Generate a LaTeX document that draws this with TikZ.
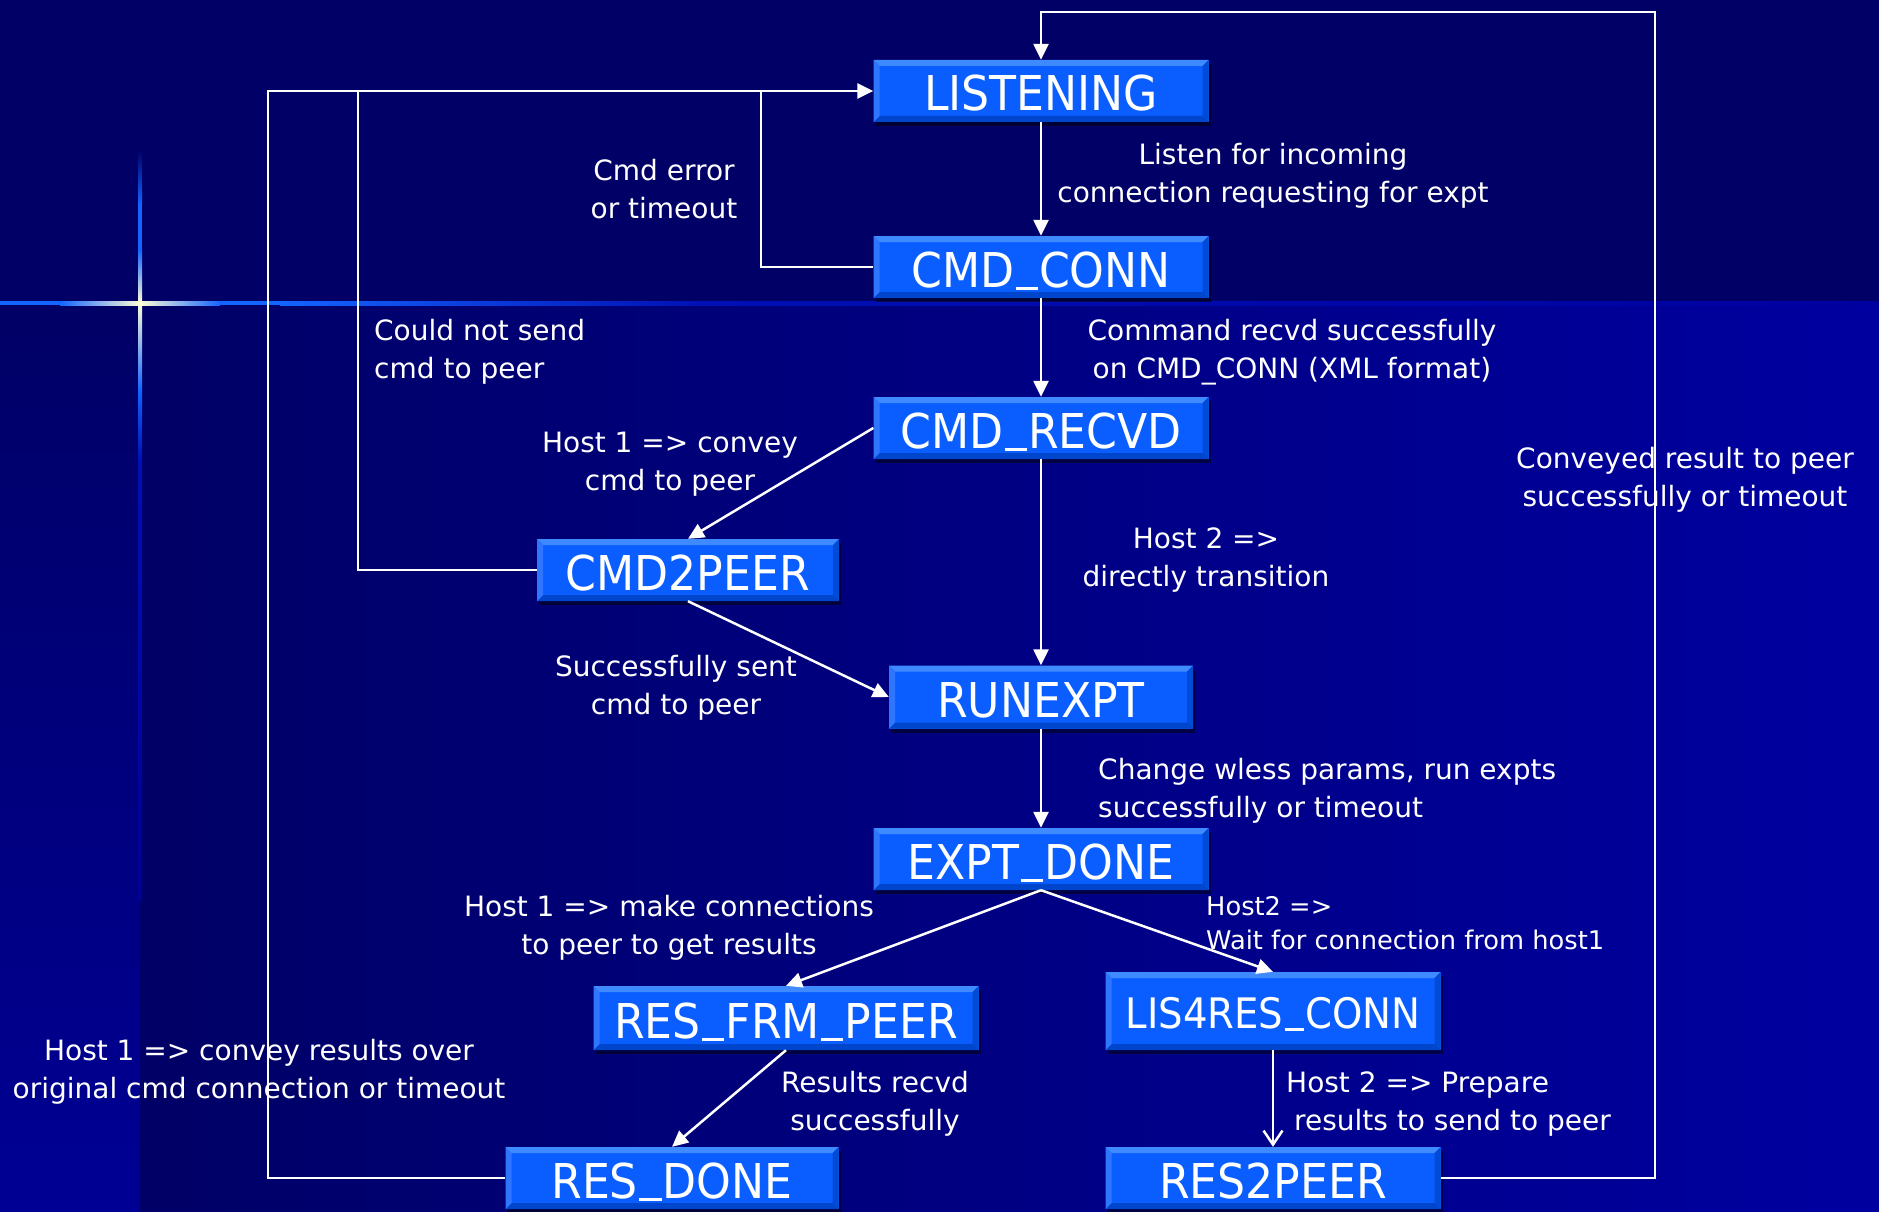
\documentclass[tikz,border=0pt]{standalone}
\usepackage{fontspec}
\setmainfont{DejaVu Sans}
\newfontfamily\nodefont{DejaVu Sans}[FakeStretch=0.92]
\usetikzlibrary{arrows.meta,shadows}
\newcommand\usbar{\kern0.03em\rule[-2.5pt]{0.46em}{3pt}\kern0.03em}
\definecolor{bgtop}{HTML}{000066}
\definecolor{bgbot}{HTML}{0000A0}
\definecolor{bgleft}{HTML}{000094}
\definecolor{nodeblue}{HTML}{0A5EFF}
\definecolor{nodelight}{HTML}{3F8AFF}
\definecolor{nodedark}{HTML}{0046CC}
\definecolor{flareblue}{HTML}{1464FF}
\definecolor{flarecore}{HTML}{FFFFD8}
\definecolor{flarefaint}{HTML}{0010B4}
\tikzset{
  state/.style={fill=nodeblue, text=white,
    font=\nodefont\fontsize{48}{52}\selectfont,
    text height=40pt, text depth=0pt,
    minimum width=335pt, minimum height=62pt, inner sep=0pt,
    drop shadow={shadow xshift=2pt,shadow yshift=-4pt,opacity=0.5,fill=black},
    path picture={
      \fill[nodelight] (path picture bounding box.north west) -- (path picture bounding box.north east)
        -- ([shift={(-6pt,-6pt)}]path picture bounding box.north east)
        -- ([shift={(6pt,-6pt)}]path picture bounding box.north west) -- cycle;
      \fill[nodedark] (path picture bounding box.south west) -- (path picture bounding box.south east)
        -- ([shift={(-6pt,6pt)}]path picture bounding box.south east)
        -- ([shift={(6pt,6pt)}]path picture bounding box.south west) -- cycle;
      \fill[nodeblue!85!white] (path picture bounding box.north west)
        -- ([shift={(6pt,-6pt)}]path picture bounding box.north west)
        -- ([shift={(6pt,6pt)}]path picture bounding box.south west)
        -- (path picture bounding box.south west) -- cycle;
      \fill[nodedark!80!nodeblue] (path picture bounding box.north east)
        -- ([shift={(-6pt,-6pt)}]path picture bounding box.north east)
        -- ([shift={(-6pt,6pt)}]path picture bounding box.south east)
        -- (path picture bounding box.south east) -- cycle;
    }},
  lbl/.style={text=white, font=\fontsize{28}{38}\selectfont, align=center, inner sep=0pt},
  conn/.style={draw=white, line width=2.5pt},
  arr/.style={conn, -{Triangle[length=16pt,width=15pt]}},
  barb/.style={conn, -{Straight Barb[length=14pt,width=19pt]}}
}
\begin{document}
\begin{tikzpicture}[x=1pt,y=-1pt]
% background
\fill[bgtop] (0,0) rectangle (1879,1212);
\useasboundingbox (0,0) rectangle (1879,1212);
\shade[left color=bgtop, right color=bgbot] (140,303) rectangle (1879,1212);
\shade[top color=bgtop, bottom color=bgleft] (0,303) rectangle (140,1212);
% flare horizontal
\fill[flareblue] (0,301) rectangle (60,305);
\shade[left color=flareblue, right color=flarecore] (60,301) rectangle (140,305);
\shade[left color=flarecore, right color=flareblue] (140,301) rectangle (220,305);
\fill[flareblue] (220,301) rectangle (280,305);
\shade[left color=flareblue, right color=flarefaint] (280,301) rectangle (700,305);
\shade[left color=flarefaint, right color=bgbot] (700,301) rectangle (1879,305);
% flare vertical
\shade[top color=bgtop, bottom color=flareblue] (138,150) rectangle (142,205);
\fill[flareblue] (138,205) rectangle (142,250);
\shade[top color=flareblue, bottom color=flarecore] (138,250) rectangle (142,303);
\shade[top color=flarecore, bottom color=flareblue] (138,303) rectangle (142,390);
\shade[top color=flareblue, bottom color=flarefaint] (138,390) rectangle (142,460);
\shade[top color=flarefaint, bottom color=bgleft] (138,460) rectangle (142,900);
% states
\node[state] (listen) at (1041,91) {LISTENING};
\node[state] (cmdconn) at (1041,267) {CMD\usbar CONN};
\node[state] (cmdrecvd) at (1041,428) {CMD\usbar RECVD};
\node[state, minimum width=302pt] (cmd2peer) at (688,570) {CMD2PEER};
\node[state, minimum width=304pt, minimum height=63pt] (runexpt) at (1041,697) {RUNEXPT};
\node[state] (exptdone) at (1041,859) {EXPT\usbar DONE};
\node[state, minimum width=385pt, minimum height=64pt] (resfrm) at (786,1018) {RES\usbar FRM\usbar PEER};
\node[state, minimum height=78pt, font=\nodefont\fontsize{42}{46}\selectfont, text height=34pt] (lis4res) at (1273,1011) {LIS4RES\usbar CONN};
\node[state, minimum width=333pt] (resdone) at (672,1178) {RES\usbar DONE};
\node[state] (res2peer) at (1273,1178) {RES2PEER};
% connectors
\draw[arr] (res2peer.east) -| (1655,12) -| (listen.north);
\draw[arr] (resdone.west) -| (268,91) -- (listen.west);
\draw[conn] (cmd2peer.west) -| (358,91);
\draw[conn] (cmdconn.west) -| (761,91);
\draw[arr] (listen.south) -- (cmdconn.north);
\draw[arr] (cmdconn.south) -- (cmdrecvd.north);
\draw[arr] (cmdrecvd.south) -- (runexpt.north);
\draw[arr] (runexpt.south) -- (exptdone.north);
\draw[arr] (cmdrecvd.west) -- (cmd2peer.north);
\draw[arr] (cmd2peer.south) -- (runexpt.west);
\draw[arr] (exptdone.south) -- (resfrm.north);
\draw[arr] (exptdone.south) -- (lis4res.north);
\draw[arr] (resfrm.south) -- (resdone.north);
\draw[barb] (lis4res.south) -- (res2peer.north);
% labels
\node[lbl] (l1) at (664,189) {Cmd error\\or timeout};
\node[lbl] (l2) at (1273,176) {Listen for incoming\\connection requesting for expt};
\node[lbl, align=left, anchor=west] (l3) at (374,352) {Could not send\\cmd to peer};
\node[lbl] (l4) at (1292,352) {Command recvd successfully\\ on CMD\_CONN (XML format)};
\node[lbl] (l5) at (670,464) {Host 1 => convey\\cmd to peer};
\node[lbl] (l6) at (1685,480) {Conveyed result to peer\\successfully or timeout};
\node[lbl] (l7) at (1206,560) {Host 2 =>\\directly transition};
\node[lbl] (l8) at (676,688) {Successfully sent\\cmd to peer};
\node[lbl, align=left, anchor=west] (l9) at (1098,791) {Change wless params, run expts\\successfully or timeout};
\node[lbl] (l10) at (669,928) {Host 1 => make connections\\to peer to get results};
\node[lbl, align=left, anchor=west, font=\fontsize{25.7}{34}\selectfont] (l11) at (1206,923) {Host2 =>\\Wait for connection from host1};
\node[lbl] (l12) at (259,1072) {Host 1 => convey results over\\original cmd connection or timeout};
\node[lbl] (l13) at (875,1104) {Results recvd\\successfully};
\node[lbl, align=left, anchor=west] (l14) at (1286,1104) {Host 2 => Prepare\\\hspace*{8pt}results to send to peer};
\end{tikzpicture}
\end{document}
